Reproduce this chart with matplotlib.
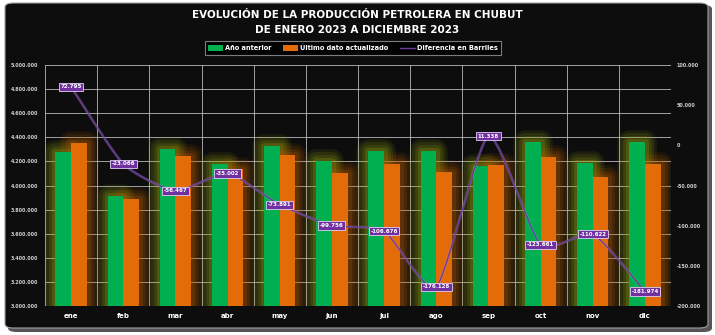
import numpy as np
import matplotlib
matplotlib.use("Agg")
import matplotlib.pyplot as plt
import matplotlib.patheffects as pe
from matplotlib.patches import FancyBboxPatch, Patch
from matplotlib.lines import Line2D
from matplotlib.ticker import FuncFormatter, FixedLocator

meses = ["ene", "feb", "mar", "abr", "may", "jun", "jul", "ago", "sep", "oct", "nov", "dic"]
anio_anterior = [4280000, 3910000, 4300000, 4175000, 4330000, 4205000,
                 4287000, 4287000, 4160000, 4362000, 4185000, 4362000]
diferencia = [72795, -23066, -56467, -35002, -73891, -99756,
              -106676, -176128, 11338, -123661, -110622, -181974]
ultimo_dato = [a + d for a, d in zip(anio_anterior, diferencia)]

izq_ticks = list(range(3000000, 5000001, 200000))
der_ticks = list(range(-200000, 100001, 50000))

VERDE = "#00b050"
NARANJA = "#e36c09"
VIOLETA = "#6a3a9c"
FONDO = "#0d0d0d"
W, H = 715, 335


def miles(v, pos=None):
    return f"{int(round(v)):,}".replace(",", ".")


def suavizar(x, y, k=0.1, n=30):
    # curva bezier suave entre los puntos
    x = np.asarray(x, float)
    y = np.asarray(y, float)
    px = np.concatenate([[x[0]], x, [x[-1]]])
    py = np.concatenate([[y[0]], y, [y[-1]]])
    xs, ys = [], []
    t = np.linspace(0, 1, n)
    for i in range(1, len(px) - 2):
        p0, p1, p2, p3 = (np.array([px[j], py[j]]) for j in range(i - 1, i + 3))
        c1 = p1 + (p2 - p0) * k
        c2 = p2 - (p3 - p1) * k
        b = ((1 - t) ** 3)[:, None] * p1 + (3 * (1 - t) ** 2 * t)[:, None] * c1 \
            + (3 * (1 - t) * t ** 2)[:, None] * c2 + (t ** 3)[:, None] * p2
        xs.extend(b[:, 0])
        ys.extend(b[:, 1])
    return np.array(xs), np.array(ys)


fig = plt.figure(figsize=(W / 100, H / 100), dpi=100)
fig.patch.set_facecolor("white")

# marco redondeado con sombra
sombra = FancyBboxPatch((8 / W, 3 / H), 704 / W, 327 / H,
                        boxstyle="round,pad=0,rounding_size=0.012",
                        transform=fig.transFigure, fc="#555555", ec="none", zorder=-2)
marco = FancyBboxPatch((5 / W, 7 / H), 703 / W, 325 / H,
                       boxstyle="round,pad=0,rounding_size=0.012",
                       transform=fig.transFigure, fc=FONDO, ec="#a0a0a0", lw=0.8, zorder=-1)
fig.patches.extend([sombra, marco])

ax = fig.add_axes([45 / W, 29 / H, 626 / W, 241 / H])
ax.set_facecolor("none")
x = np.arange(len(meses))
ancho = 0.3


def brillo(color):
    return [pe.Stroke(linewidth=w, foreground=color, alpha=a, joinstyle="round")
            for w, a in [(17, 0.10), (13, 0.13), (9, 0.16), (5, 0.22)]]


# halo primero, barras sólidas encima
for vals, off, halo in [(anio_anterior, -ancho / 2, "#9aaa10"), (ultimo_dato, ancho / 2, "#b85c00")]:
    hb = ax.bar(x + off, vals, ancho, color="none", zorder=2)
    for r in hb:
        r.set_path_effects(brillo(halo))
ax.bar(x - ancho / 2, anio_anterior, ancho, color=VERDE, zorder=3)
ax.bar(x + ancho / 2, ultimo_dato, ancho, color=NARANJA, zorder=3)

ax.set_xlim(-0.5, len(meses) - 0.5)
ax.set_ylim(3000000, 5000000)
ax.yaxis.set_major_locator(FixedLocator(izq_ticks))
ax.yaxis.set_major_formatter(FuncFormatter(miles))
ax.set_xticks(x)
ax.set_xticklabels(meses)
ax.xaxis.set_minor_locator(FixedLocator(np.arange(-0.5, len(meses), 1.0)))
ax.grid(axis="y", which="major", color="#b8b8b8", lw=0.6, zorder=1)
ax.grid(axis="x", which="minor", color="#b8b8b8", lw=0.6, zorder=1)
ax.set_axisbelow(True)
ax.tick_params(axis="both", which="both", length=0)
ax.tick_params(axis="y", labelsize=3.5, labelcolor="#d0d0d0", pad=5)
ax.tick_params(axis="x", labelsize=5, labelcolor="white", pad=5)
for t in ax.get_xticklabels():
    t.set_fontweight("bold")
for t in ax.get_yticklabels():
    t.set_fontweight("bold")
for s in ax.spines.values():
    s.set_visible(False)

ax2 = ax.twinx()
ax2.set_ylim(-200000, 100000)
ax2.yaxis.set_major_locator(FixedLocator(der_ticks))
ax2.yaxis.set_major_formatter(FuncFormatter(miles))
ax2.tick_params(axis="y", length=0, labelsize=3.5, labelcolor="#d0d0d0", pad=4)
for t in ax2.get_yticklabels():
    t.set_fontweight("bold")
for s in ax2.spines.values():
    s.set_visible(False)

cx, cy = suavizar(x, diferencia)
ax2.plot(cx, cy, color=VIOLETA, lw=0.9, zorder=4,
         path_effects=[pe.Stroke(linewidth=2.0, foreground="#a888d0", alpha=0.35), pe.Normal()])
for xi, d in zip(x, diferencia):
    ax2.text(xi, d, miles(d), ha="center", va="center", fontsize=4.0, fontweight="bold",
             color="white", zorder=5,
             bbox=dict(boxstyle="square,pad=0.3", fc="#7030a0", ec="#e0d0f5", lw=0.6))

fig.text(0.5, 1 - 15 / H, "EVOLUCIÓN DE LA PRODUCCIÓN PETROLERA EN CHUBUT",
         ha="center", va="center", color="white", fontsize=7.5, fontweight="bold")
fig.text(0.5, 1 - 30 / H, "DE ENERO 2023 A DICIEMBRE 2023",
         ha="center", va="center", color="white", fontsize=7.5, fontweight="bold")

handles = [Patch(fc=VERDE, ec="none"), Patch(fc=NARANJA, ec="none"),
           Line2D([], [], color=VIOLETA, lw=1)]
leg = fig.legend(handles, ["Año anterior", "Último dato actualizado", "Diferencia en Barriles"],
                 loc="center", bbox_to_anchor=(353 / W, 1 - 48 / H), ncol=3, frameon=True,
                 prop={"weight": "bold", "size": 4.8}, handlelength=2.2,
                 handleheight=0.9, handletextpad=0.3, columnspacing=1.8,
                 borderpad=0.5, fancybox=False)
leg.get_frame().set_facecolor("black")
leg.get_frame().set_edgecolor("#9a9a9a")
leg.get_frame().set_linewidth(0.8)
for t in leg.get_texts():
    t.set_color("white")

fig.savefig("out.png", dpi=100, facecolor=fig.get_facecolor())
